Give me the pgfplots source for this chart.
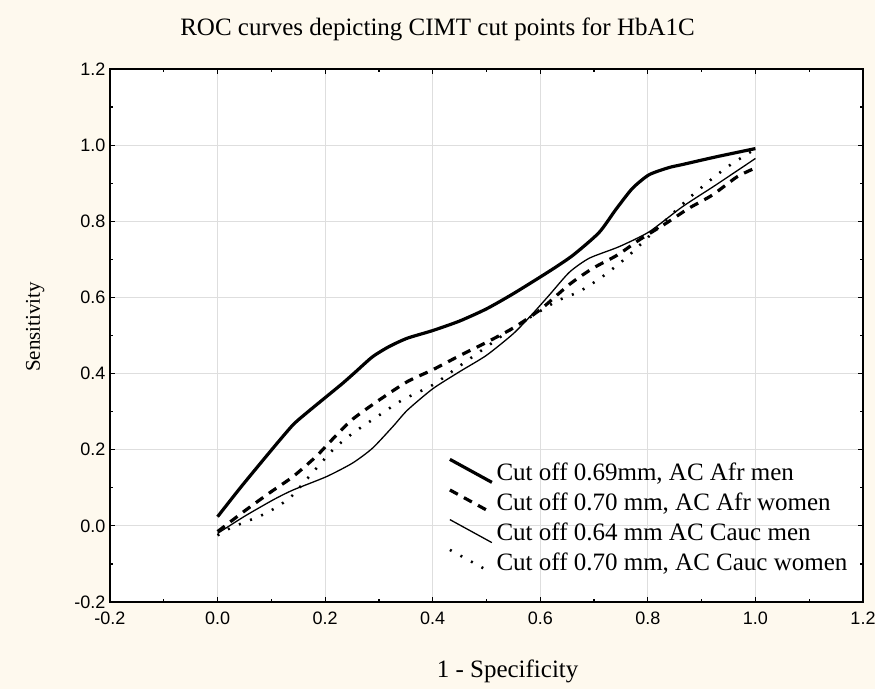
\documentclass[border=0pt]{standalone}
\usepackage{fontspec}
\setmainfont{Liberation Serif}
\newfontfamily\arialfont{Liberation Sans}
\usepackage{pgfplots}
\pgfplotsset{compat=1.18}
\definecolor{cream}{RGB}{254,249,238}
\definecolor{gridgray}{RGB}{222,222,222}

\begin{document}
\begin{tikzpicture}[x=1pt,y=1pt]
\path[use as bounding box] (0,0) rectangle (875,689);
\clip (0,0) rectangle (875,689);
\fill[cream] (0,0) rectangle (875,689);
\begin{axis}[
  at={(110pt,87pt)}, anchor=south west,
  scale only axis, width=753pt, height=533pt,
  xmin=-0.2, xmax=1.2, ymin=-0.2, ymax=1.2,
  xtick={-0.2,0,0.2,0.4,0.6,0.8,1.0,1.2},
  ytick={-0.2,0,0.2,0.4,0.6,0.8,1.0,1.2},
  minor tick num=1,
  tick align=inside,
  major tick length=5pt, minor tick length=3pt,
  every tick/.style={black, line width=1.2pt},
  grid=major,
  major grid style={gridgray, line width=0.9pt},
  axis line style={line width=1.6pt},
  axis background/.style={fill=white},
  /pgf/number format/assume math mode=true,
  tick label style={font=\arialfont\fontsize{18}{20}\selectfont,
    /pgf/number format/fixed, /pgf/number format/fixed zerofill,
    /pgf/number format/precision=1},
  xticklabel style={yshift=-6pt},
  yticklabel style={xshift=-1pt},
  title={ROC curves depicting CIMT cut points for HbA1C},
  title style={at={(axis description cs:0.435,1.0507)}, anchor=base,
    font=\fontsize{25}{28}\selectfont, inner sep=0pt},
  xlabel={1 - Specificity},
  xlabel style={at={(axis description cs:0.528,-0.142)}, anchor=base,
    font=\fontsize{25}{28}\selectfont, inner sep=0pt},
  ylabel={Sensitivity},
  ylabel style={at={(axis description cs:-0.093,0.516)}, anchor=base,
    rotate=0, font=\fontsize{21}{24}\selectfont, inner sep=0pt},
  legend cell align=left,
  legend style={at={(axis description cs:0.449,0.271)}, anchor=north west,
    draw=none, fill=none, inner sep=0pt, row sep=2pt, column sep=2pt,
    font=\fontsize{25}{28}\selectfont,
    nodes={inner sep=1pt, text height=17pt, text depth=5pt}},
  legend image code/.code={\draw[#1] (0pt,15pt) -- (42pt,-8pt);},
]
% Cut off 0.69mm, AC Afr men
\addplot[black, line width=3.2pt, smooth, tension=0.4] coordinates {
(0.000,0.024) (0.044,0.103) (0.103,0.204) (0.140,0.265) (0.165,0.296)
(0.202,0.339) (0.233,0.375) (0.257,0.405) (0.288,0.444) (0.319,0.471)
(0.353,0.493) (0.400,0.513) (0.450,0.538) (0.500,0.570) (0.550,0.610)
(0.616,0.668) (0.660,0.710) (0.709,0.770) (0.740,0.830) (0.771,0.886)
(0.802,0.922) (0.839,0.941) (0.864,0.949) (0.926,0.969) (1.000,0.991)};
\addlegendentry{Cut off 0.69mm, AC Afr men}
% Cut off 0.70 mm, AC Afr women
\addplot[black, line width=3.2pt, dash pattern=on 9pt off 7pt, smooth, tension=0.4] coordinates {
(0.000,-0.015) (0.053,0.042) (0.100,0.090) (0.140,0.129) (0.183,0.182)
(0.214,0.228) (0.251,0.280) (0.301,0.331) (0.353,0.379) (0.400,0.410)
(0.450,0.447) (0.500,0.482) (0.550,0.520) (0.600,0.568) (0.654,0.634)
(0.697,0.676) (0.743,0.711) (0.784,0.751) (0.833,0.794) (0.876,0.834)
(0.920,0.869) (0.966,0.917) (1.000,0.940)};
\addlegendentry{Cut off 0.70 mm, AC Afr women}
% Cut off 0.64 mm AC Cauc men
\addplot[black, line width=1.3pt, smooth, tension=0.4] coordinates {
(0.000,-0.020) (0.050,0.025) (0.103,0.068) (0.140,0.094) (0.202,0.129)
(0.251,0.165) (0.288,0.204) (0.326,0.261) (0.353,0.304) (0.400,0.360)
(0.450,0.405) (0.500,0.448) (0.550,0.505) (0.585,0.556) (0.616,0.605)
(0.654,0.666) (0.691,0.703) (0.746,0.733) (0.802,0.772) (0.864,0.838)
(0.926,0.895) (1.000,0.965)};
\addlegendentry{Cut off 0.64 mm AC Cauc men}
% Cut off 0.70 mm, AC Cauc women
\addplot[black, line width=2.6pt, dash pattern=on 2pt off 10pt, smooth, tension=0.4] coordinates {
(0.000,-0.025) (0.025,-0.005) (0.090,0.033) (0.134,0.073) (0.165,0.121)
(0.214,0.199) (0.251,0.243) (0.301,0.291) (0.344,0.331) (0.400,0.370)
(0.450,0.420) (0.500,0.470) (0.550,0.520) (0.629,0.589) (0.672,0.615)
(0.715,0.654) (0.762,0.707) (0.821,0.786) (0.879,0.864) (0.944,0.939)
(1.000,0.990)};
\addlegendentry{Cut off 0.70 mm, AC Cauc women}
\end{axis}
\end{tikzpicture}
\end{document}
